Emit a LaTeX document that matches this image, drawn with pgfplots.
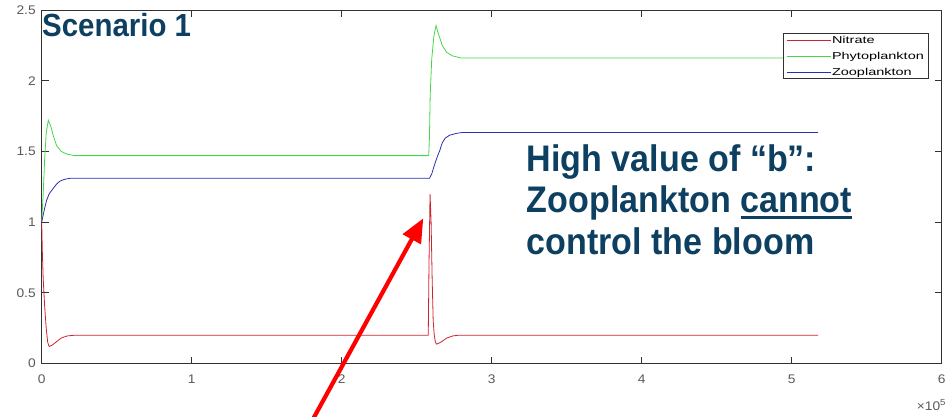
\documentclass[border=0pt]{standalone}
\usepackage{fontspec}
\setmainfont{Liberation Sans}
\newfontfamily\tickfont[FakeStretch=1.1]{Liberation Sans}
\newfontfamily\legfont[FakeStretch=1.45]{Liberation Sans}
\newfontfamily\annfont[FakeStretch=0.92]{Liberation Sans}
\usepackage{pgfplots}
\pgfplotsset{compat=1.18}
\usetikzlibrary{arrows.meta}
\definecolor{nitr}{RGB}{205,35,45}
\definecolor{phyto}{RGB}{70,215,70}
\definecolor{zoo}{RGB}{45,45,175}
\definecolor{anncol}{RGB}{13,63,97}
\definecolor{tickgray}{RGB}{90,90,90}
\definecolor{axgray}{RGB}{50,50,50}
\newcommand\thickul[1]{\setbox0=\hbox{#1}\rlap{\rule[-7pt]{\wd0}{3pt}}\box0}
\begin{document}
\begin{tikzpicture}
\begin{axis}[
  scale only axis, width=900pt, height=353.5pt,
  xmin=0, xmax=6, ymin=0, ymax=2.5,
  xtick={0,1,2,3,4,5,6}, ytick={0,0.5,1,1.5,2,2.5},
  scaled ticks=false,
  axis line style={axgray, line width=0.8pt},
  major tick style={axgray, line width=0.8pt},
  major tick length=7pt,
  tick align=inside,
  /pgf/number format/assume math mode=true,
  tick label style={font=\tickfont\fontsize{12.5}{14}\selectfont, text=tickgray},
  xticklabel shift=8pt,
  yticklabel shift=2.5pt,
  clip=false,
  legend style={at={(0.985,0.934)}, anchor=north east, draw=axgray, line width=0.6pt,
    inner xsep=3pt, inner ysep=1pt, row sep=5pt,
    font=\legfont\fontsize{10}{11}\selectfont,
    nodes={inner sep=1pt, text height=7.5pt, text depth=1.5pt}},
  legend cell align=left,
  legend image code/.code={\draw[#1] (0pt,0pt) -- (44pt,0pt);},
]
\addplot[color=nitr, draw=nitr, line width=0.8pt] coordinates {
(0,1.0) (0.004,0.8) (0.01,0.6) (0.02,0.4) (0.03,0.25) (0.04,0.15) (0.05,0.12)
(0.07,0.13) (0.1,0.155) (0.13,0.18) (0.17,0.195) (0.22,0.2) (2.577,0.2)
(2.582,0.7) (2.589,1.2) (2.596,1.0) (2.603,0.6) (2.61,0.3) (2.617,0.2)
(2.625,0.15) (2.633,0.137) (2.66,0.15) (2.7,0.18) (2.74,0.195) (2.78,0.2) (5.176,0.2)};
\addlegendentry{Nitrate}
\addplot[color=phyto, draw=phyto, line width=0.8pt] coordinates {
(0,1.0) (0.01,1.2) (0.02,1.45) (0.03,1.63) (0.044,1.72) (0.06,1.68) (0.08,1.6)
(0.1,1.54) (0.13,1.5) (0.17,1.48) (0.22,1.47) (2.58,1.47) (2.585,1.6) (2.59,1.9)
(2.6,2.15) (2.615,2.32) (2.629,2.39) (2.645,2.33) (2.67,2.25) (2.7,2.2)
(2.74,2.175) (2.8,2.16) (5.176,2.16)};
\addlegendentry{Phytoplankton}
\addplot[color=zoo, draw=zoo, line width=0.8pt] coordinates {
(0,1.0) (0.01,1.05) (0.02,1.1) (0.033,1.155) (0.05,1.2) (0.078,1.24) (0.1,1.27)
(0.122,1.29) (0.15,1.302) (0.19,1.31) (2.585,1.31) (2.6,1.34) (2.62,1.41)
(2.64,1.47) (2.655,1.51) (2.67,1.56) (2.689,1.593) (2.72,1.615) (2.767,1.628)
(2.8,1.633) (5.176,1.633)};
\addlegendentry{Zooplankton}
\coordinate (bl) at (rel axis cs:0,0);
\node[anchor=base east, inner sep=0pt, text=tickgray, font=\tickfont\fontsize{12.5}{14}\selectfont]
  at ([shift={(4.5pt,-46.5pt)}]rel axis cs:1,0) {×10\textsuperscript{5}};
\node[anchor=base west, inner sep=0pt, text=anncol, font=\annfont\bfseries\fontsize{32}{34}\selectfont]
  at (axis cs:0.002,2.316) {Scenario 1};
\node[anchor=base west, inner sep=0pt, text=anncol, font=\annfont\bfseries\fontsize{37}{40}\selectfont]
  at (axis cs:3.233,1.356) {High value of “b”:};
\node[anchor=base west, inner sep=0pt, text=anncol, font=\annfont\bfseries\fontsize{37}{40}\selectfont]
  at (axis cs:3.233,1.071) {Zooplankton \thickul{cannot}};
\node[anchor=base west, inner sep=0pt, text=anncol, font=\annfont\bfseries\fontsize{37}{40}\selectfont]
  at (axis cs:3.233,0.774) {control the bloom};
\draw[red, line width=4.2pt, -{Triangle[width=20pt,length=24pt]}]
  (axis cs:1.80,-0.41) -- (axis cs:2.544,1.027);
\end{axis}
\pgfresetboundingbox
\path[use as bounding box] ([shift={(-41.7pt,-52.5pt)}]bl) rectangle ([shift={(905.3pt,363.5pt)}]bl);
\end{tikzpicture}
\end{document}
